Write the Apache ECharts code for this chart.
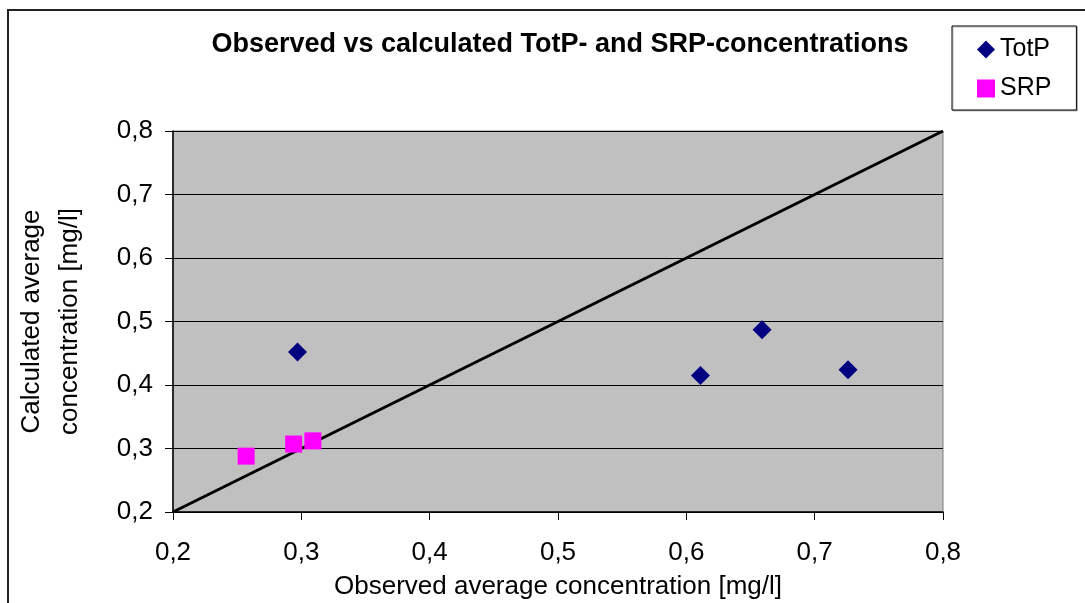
<!DOCTYPE html>
<html>
<head>
<meta charset="utf-8">
<script src="https://cdn.jsdelivr.net/npm/echarts@6/dist/echarts.min.js"></script>
<style>
html,body{margin:0;padding:0;background:#fff;}
#chart{width:1085px;height:603px;}
</style>
</head>
<body>
<div id="chart"></div>
<script>
const titleText = 'Observed vs calculated TotP- and SRP-concentrations';
const xAxisName = 'Observed average concentration [mg/l]';
const yAxisName = 'Calculated average\nconcentration [mg/l]';
const totPObserved = [0.297, 0.611, 0.659, 0.726];
const totPCalculated = [0.452, 0.415, 0.487, 0.424];
const srpObserved = [0.257, 0.294, 0.309];
const srpCalculated = [0.288, 0.307, 0.312];
const lineX = [0.2, 0.8];
const lineY = [0.2, 0.8];
const axisMin = 0.2, axisMax = 0.8, axisStep = 0.1;

const zip = (a, b) => a.map((v, i) => [v, b[i]]);
const fmt = v => v.toFixed(1).replace('.', ',');
const font = 'Liberation Sans, Arial, sans-serif';

const chart = echarts.init(document.getElementById('chart'));
chart.setOption({
  animation: false,
  backgroundColor: '#ffffff',
  textStyle: { fontFamily: font },
  title: {
    text: titleText,
    left: 555, top: 26, textAlign: 'center',
    textStyle: { fontFamily: font, fontWeight: 'bold', fontSize: 27, color: '#000' }
  },
  graphic: [{
    type: 'rect', shape: { x: 8, y: 10, width: 1100, height: 620 },
    style: { fill: 'none', stroke: '#222', lineWidth: 2 }, silent: true, z: 100
  }],
  legend: {
    left: 952, top: 26, orient: 'vertical',
    padding: [11, 25, 9, 25], itemGap: 14,
    itemWidth: 18, itemHeight: 18,
    borderColor: '#000', borderWidth: 1, backgroundColor: '#fff',
    shadowColor: 'rgba(0,0,0,0.25)', shadowOffsetX: 1, shadowOffsetY: 1, shadowBlur: 0,
    textStyle: { fontFamily: font, fontSize: 25, color: '#000' },
    data: [{ name: 'TotP', icon: 'diamond' }, { name: 'SRP', icon: 'rect' }]
  },
  grid: {
    left: 173, top: 131, width: 770, height: 381,
    show: true, backgroundColor: '#c0c0c0', borderColor: '#808080', borderWidth: 1,
    containLabel: false, outerBoundsMode: 'none'
  },
  xAxis: {
    type: 'value', min: axisMin, max: axisMax, interval: axisStep,
    name: xAxisName, nameLocation: 'middle', nameGap: 62,
    nameTextStyle: { fontFamily: font, fontSize: 26, color: '#000' },
    axisLine: { show: true, onZero: false, lineStyle: { color: '#000', width: 1.5 } },
    axisTick: { show: true, inside: false, length: 8, lineStyle: { color: '#000' } },
    axisLabel: { formatter: fmt, margin: 28, fontFamily: font, fontSize: 26, color: '#000' },
    splitLine: { show: false }
  },
  yAxis: {
    type: 'value', min: axisMin, max: axisMax, interval: axisStep,
    name: yAxisName, nameLocation: 'middle', nameGap: 84, nameRotate: 90,
    nameTextStyle: { fontFamily: font, fontSize: 26, color: '#000', lineHeight: 38, align: 'center' },
    axisLine: { show: true, onZero: false, lineStyle: { color: '#000', width: 1.5 } },
    axisTick: { show: true, inside: false, length: 8, lineStyle: { color: '#000' } },
    axisLabel: { formatter: fmt, margin: 20, fontFamily: font, fontSize: 26, color: '#000' },
    splitLine: { show: true, lineStyle: { color: '#000', width: 1 } }
  },
  series: [
    {
      name: 'line', type: 'line', data: zip(lineX, lineY), symbol: 'none',
      lineStyle: { color: '#000', width: 3 }, z: 3, silent: true
    },
    {
      name: 'TotP', type: 'scatter', symbol: 'diamond', symbolSize: [19, 19],
      itemStyle: { color: '#000080', opacity: 1 }, data: zip(totPObserved, totPCalculated), z: 4
    },
    {
      name: 'SRP', type: 'scatter', symbol: 'rect', symbolSize: 17,
      itemStyle: { color: '#ff00ff', opacity: 1 }, data: zip(srpObserved, srpCalculated), z: 4
    }
  ]
});
</script>
</body>
</html>
